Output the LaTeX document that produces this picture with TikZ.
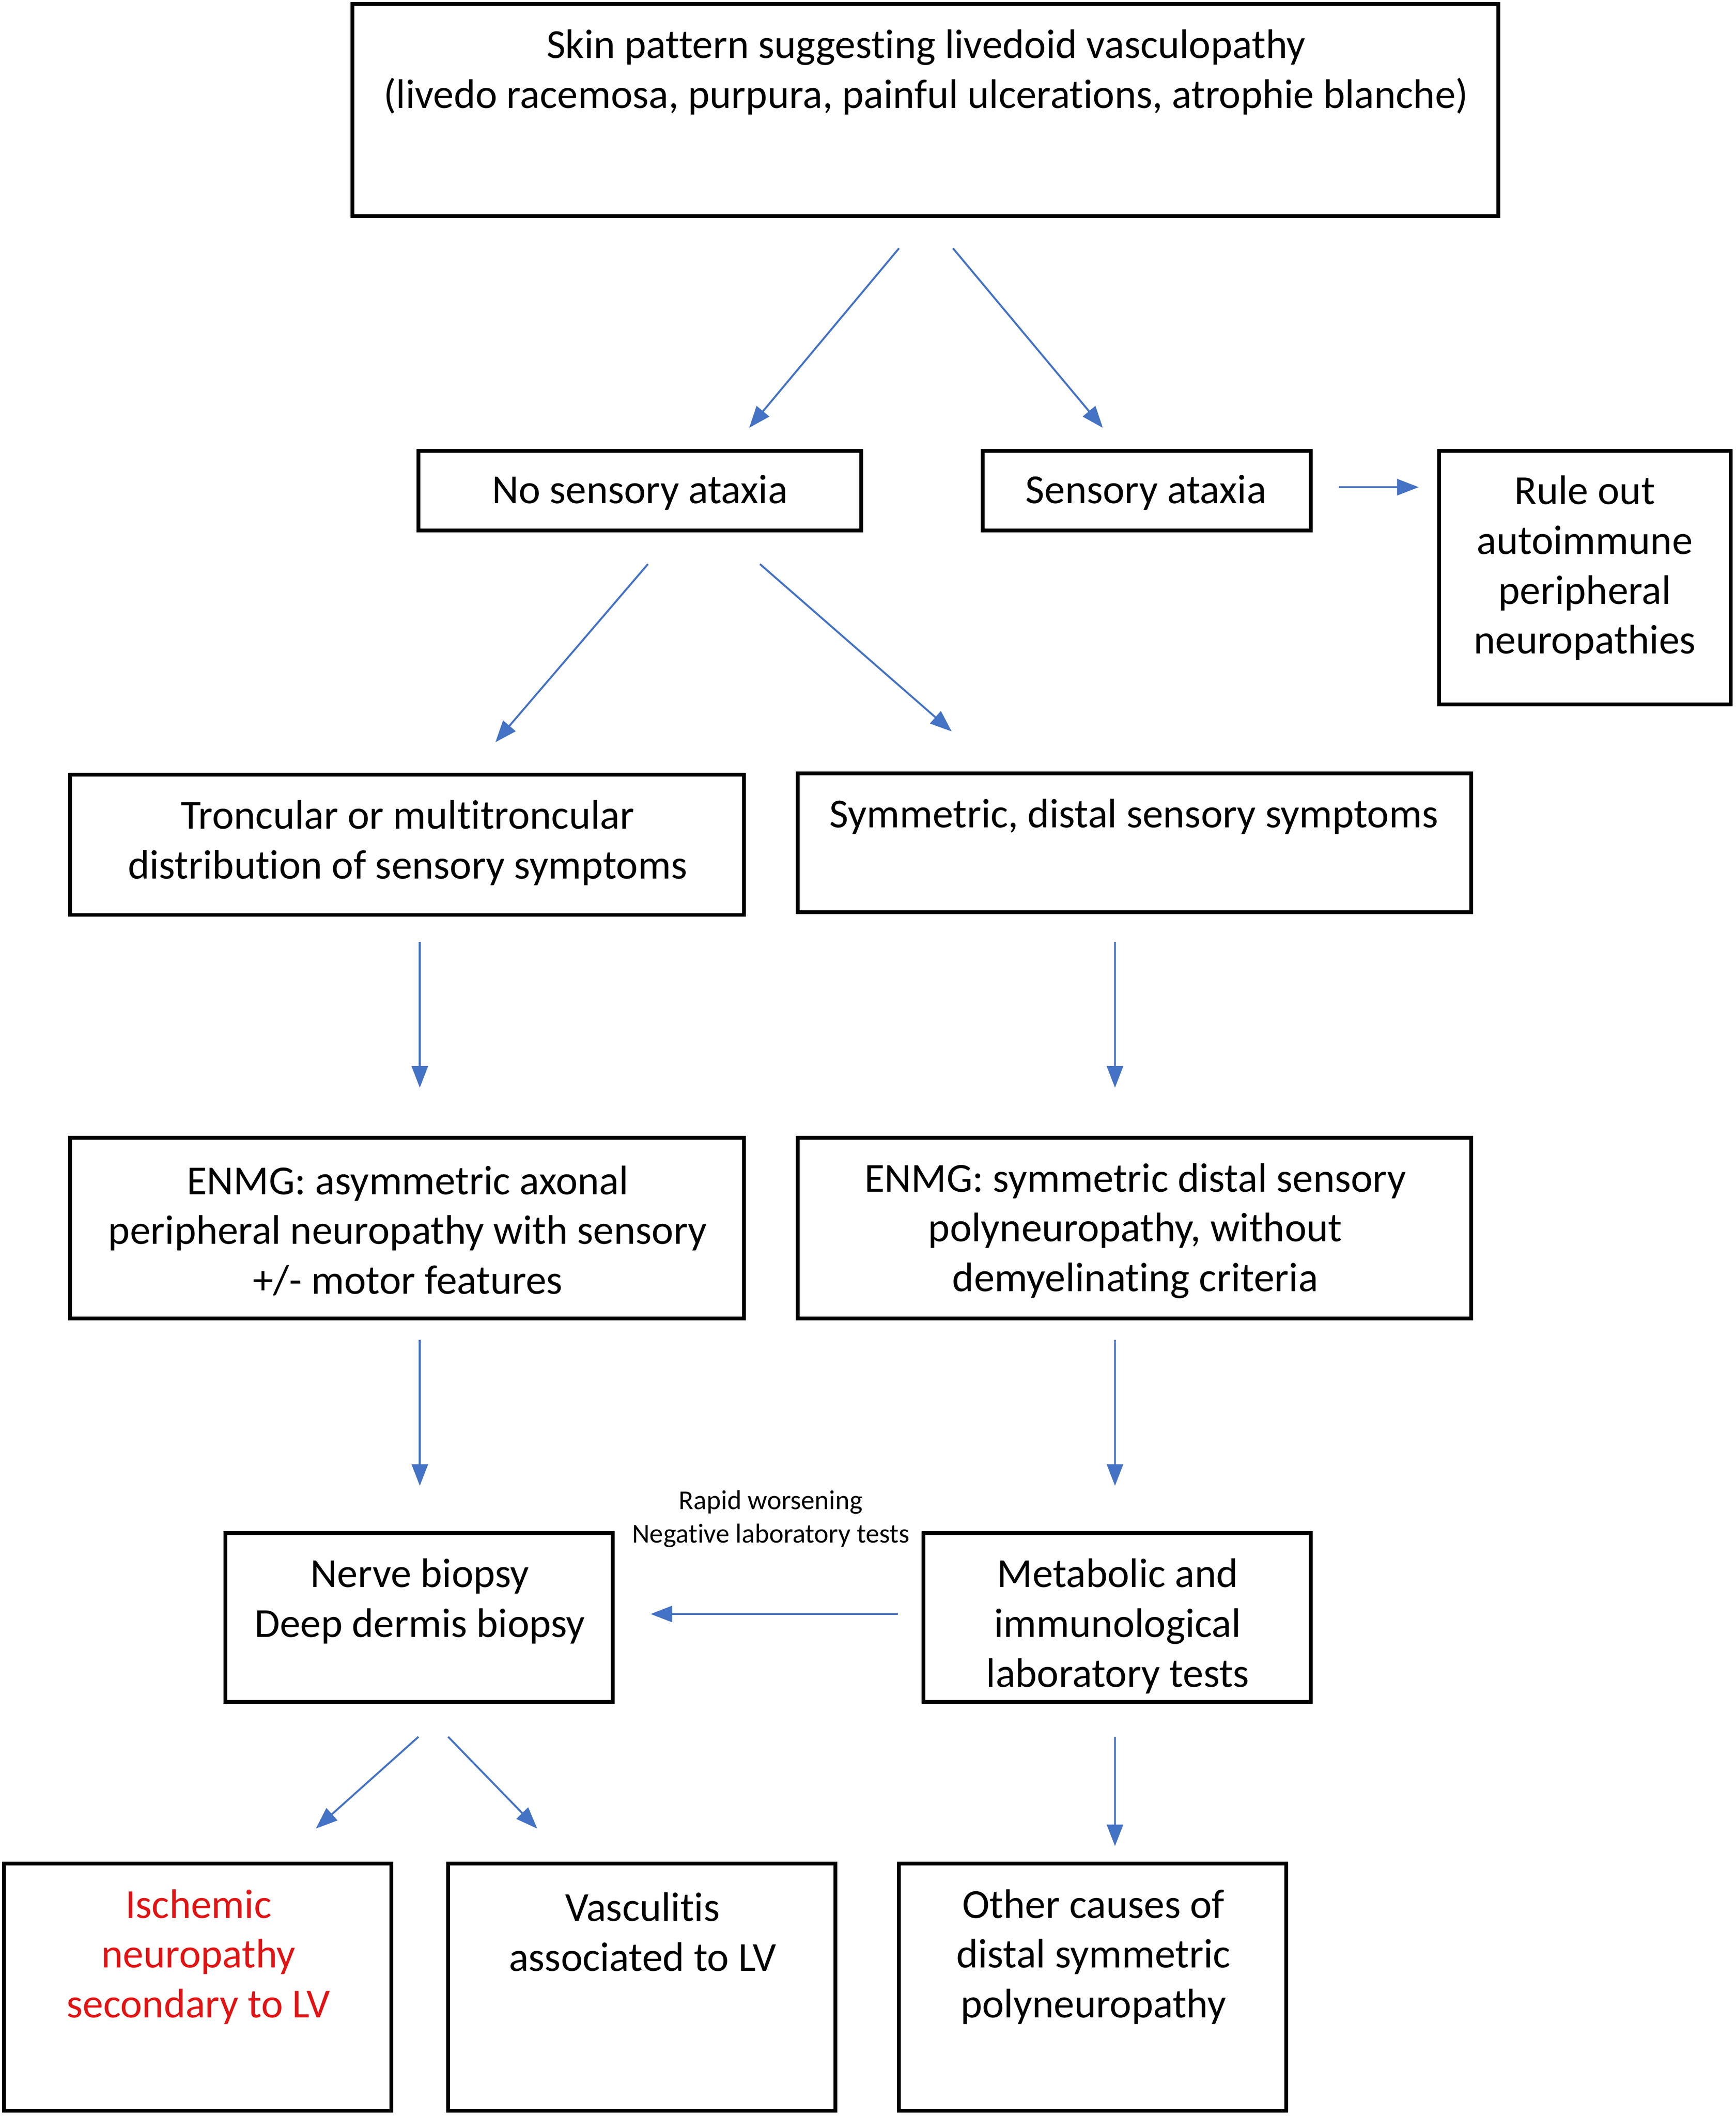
\documentclass[tikz,border=0pt]{standalone}
\usepackage{fontspec}
\setmainfont[Ligatures=NoCommon]{Carlito}
\usetikzlibrary{arrows.meta,fit}
\definecolor{arrowblue}{RGB}{68,114,196}
\definecolor{redtext}{RGB}{224,20,20}
\tikzset{
  box/.style={draw=black, line width=1.6pt, inner sep=0pt},
  txt/.style={align=center, font=\fontsize{17.4}{21}\selectfont, inner sep=0pt},
  smalltxt/.style={align=center, font=\fontsize{11.5}{14.2}\selectfont, inner sep=0pt},
  arr/.style={draw=arrowblue, line width=0.8pt, -{Triangle[length=0.32cm,width=0.24cm]}, fill=arrowblue}
}
\begin{document}
\begin{tikzpicture}[x=0.02cm, y=-0.02cm]
\useasboundingbox (0,0) rectangle (1286,1568);
% boxes
\node[box, fit={(261,3) (1110,160)}] (top) {};
\node[box, fit={(310,334) (638,393)}] (nosa) {};
\node[box, fit={(728,334) (971,393)}] (sa) {};
\node[box, fit={(1066,334) (1282,522)}] (rule) {};
\node[box, fit={(52,574) (551,678)}] (tronc) {};
\node[box, fit={(591,573) (1090,676)}] (symm) {};
\node[box, fit={(52,843) (551,977)}] (enmgl) {};
\node[box, fit={(591,843) (1090,977)}] (enmgr) {};
\node[box, fit={(167,1136) (454,1261)}] (biopsy) {};
\node[box, fit={(684,1136) (971,1261)}] (metab) {};
\node[box, fit={(3,1381) (290,1564)}] (isch) {};
\node[box, fit={(332,1381) (619,1564)}] (vasc) {};
\node[box, fit={(666,1381) (953,1564)}] (other) {};
% texts
\node[txt] (ttop) at (686,53.5) {Skin pattern suggesting livedoid vasculopathy\\(livedo racemosa, purpura, painful ulcerations, atrophie blanche)};
\node[txt] (tnosa) at (474,365) {No sensory ataxia};
\node[txt] (tsa) at (849,365) {Sensory ataxia};
\node[txt] (trule) at (1174,421) {Rule out\\autoimmune\\peripheral\\neuropathies};
\node[txt] (ttronc) at (302,624.5) {Troncular or multitroncular\\distribution of sensory symptoms};
\node[txt] (tsymm) at (840,605) {Symmetric, distal sensory symptoms};
\node[txt] (tenmgl) at (302,912) {ENMG: asymmetric axonal\\peripheral neuropathy with sensory\\+/- motor features};
\node[txt] (tenmgr) at (841,912) {ENMG: symmetric distal sensory\\polyneuropathy, without\\demyelinating criteria};
\node[txt] (tbiopsy) at (311,1186.5) {Nerve biopsy\\Deep dermis biopsy};
\begin{scope}
\clip (684,1136) rectangle (971,1260);
\node[txt] (tmetab) at (828,1205) {Metabolic and\\immunological\\laboratory tests};
\end{scope}
\node[txt, text=redtext] (tisch) at (147,1450) {Ischemic\\neuropathy\\secondary to LV};
\node[txt] (tvasc) at (476,1431.5) {Vasculitis\\associated to LV};
\node[txt] (tother) at (810,1450) {Other causes of\\distal symmetric\\polyneuropathy};
\node[smalltxt] (lbl) at (571,1125.5) {Rapid worsening\\Negative laboratory tests};
% arrow endpoints
\coordinate (a1s) at (666,184); \coordinate (a1e) at (555,317);
\coordinate (a2s) at (706,184); \coordinate (a2e) at (817,317);
\coordinate (a3s) at (992,361); \coordinate (a3e) at (1051,361);
\coordinate (a4s) at (480,418); \coordinate (a4e) at (367,550);
\coordinate (a5s) at (563,418); \coordinate (a5e) at (705,542);
\coordinate (a6s) at (311,698); \coordinate (a6e) at (311,806);
\coordinate (a7s) at (826,698); \coordinate (a7e) at (826,806);
\coordinate (a8s) at (311,993); \coordinate (a8e) at (311,1101);
\coordinate (a9s) at (826,993); \coordinate (a9e) at (826,1101);
\coordinate (a10s) at (665,1196); \coordinate (a10e) at (482,1196);
\coordinate (a11s) at (310,1287); \coordinate (a11e) at (234,1355);
\coordinate (a12s) at (332,1287); \coordinate (a12e) at (398,1355);
\coordinate (a13s) at (826,1287); \coordinate (a13e) at (826,1368);
\foreach \i in {1,...,13} {\draw[arr] (a\i s) -- (a\i e);}
\end{tikzpicture}
\end{document}
